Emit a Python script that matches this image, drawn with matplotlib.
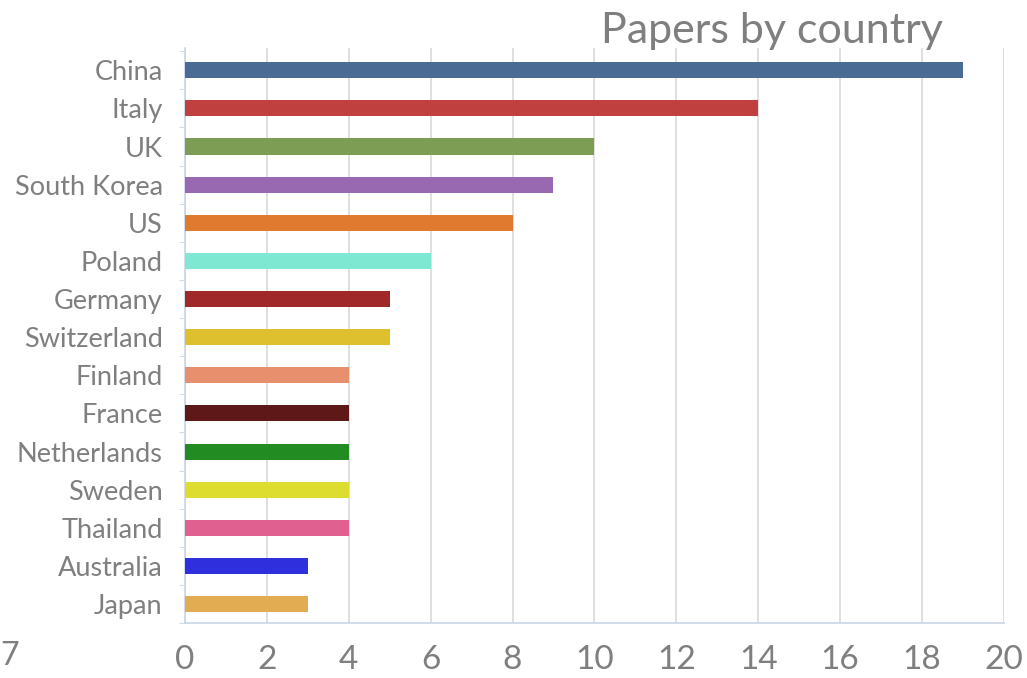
import matplotlib
matplotlib.use("Agg")
import matplotlib.pyplot as plt
import numpy as np

plt.rcParams['font.family'] = ['Lato', 'DejaVu Sans']

# data
countries = ["China", "Italy", "UK", "South Korea", "US", "Poland", "Germany",
             "Switzerland", "Finland", "France", "Netherlands", "Sweden",
             "Thailand", "Australia", "Japan"]
papers = [19, 14, 10, 9, 8, 6, 5, 5, 4, 4, 4, 4, 4, 3, 3]
colors = ["#4A6B93", "#C0403F", "#7E9D54", "#9868B1", "#DF7A2F", "#7EE8D3",
          "#A02828", "#DEC02F", "#E8906E", "#5E1818", "#228B22", "#DDDD30",
          "#E06090", "#2F2FDD", "#E2AC52"]
xticks = list(range(0, 21, 2))

GRAY = "#7F7F7F"
SPINE = "#C9D5E6"

fig = plt.figure(figsize=(10.27, 6.78), dpi=100)
ax = fig.add_axes([0.180, 0.081, 0.7976, 0.848])

y = np.arange(len(countries))
ax.barh(y, papers, height=0.42, color=colors, zorder=3)

ax.set_xlim(0, 20)
ax.set_ylim(len(countries) - 0.5, -0.58)
ax.set_xticks(xticks)
ax.set_xticklabels([str(t) for t in xticks], fontsize=24, color=GRAY)
ax.set_yticks(y)
ax.set_yticklabels(countries, fontsize=19.5, color=GRAY)
ax.set_yticks(np.arange(len(countries) + 1) - 0.5, minor=True)
ax.tick_params(axis='y', which='major', length=0, pad=16)
ax.tick_params(axis='y', which='minor', length=4, color=SPINE)
ax.tick_params(axis='x', length=0, pad=16)

ax.grid(axis='x', color="#D9D9D9", linewidth=1.2, zorder=0)
for s in ['top', 'right']:
    ax.spines[s].set_visible(False)
for s in ['left', 'bottom']:
    ax.spines[s].set_color(SPINE)
    ax.spines[s].set_linewidth(1.2)

fig.text(0.918, 0.955, "Papers by country", fontsize=31, color=GRAY,
         ha='right', va='center')
fig.text(0.0, 0.033, "7", fontsize=23, color=GRAY, ha='left', va='center')

fig.savefig("out.png", dpi=100)
